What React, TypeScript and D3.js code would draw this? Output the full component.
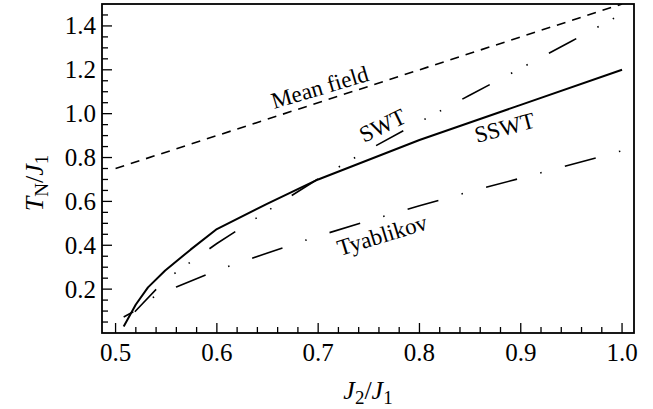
import React from "react";
import * as d3 from "d3";

const W = 653, H = 409;
const X0 = 102, X1 = 634, Y0 = 4, Y1 = 333;

const xTicks = [0.5, 0.6, 0.7, 0.8, 0.9, 1.0];
const yTicks = [0.2, 0.4, 0.6, 0.8, 1.0, 1.2, 1.4];

const mfX = [0.5, 1.0];
const mfY = [0.75, 1.5];

const sswtX = [0.508, 0.52, 0.532, 0.549, 0.574, 0.6, 0.65, 0.7, 0.8, 0.9, 1.0];
const sswtY = [0.03, 0.13, 0.208, 0.285, 0.38, 0.474, 0.59, 0.7, 0.88, 1.04, 1.2];

const swtX = [0.519, 0.54, 0.56, 0.6, 0.65, 0.7, 0.75, 0.8, 0.85, 0.9, 0.95, 1.0];
const swtY = [0.097, 0.199, 0.278, 0.408, 0.557, 0.703, 0.836, 0.962, 1.085, 1.207, 1.33, 1.455];

const tyX = [0.508, 0.518, 0.537, 0.56, 0.6, 0.65, 0.7, 0.75, 0.8, 0.85, 0.9, 0.95, 1.0];
const tyY = [0.073, 0.098, 0.162, 0.21, 0.285, 0.365, 0.442, 0.512, 0.58, 0.645, 0.706, 0.768, 0.831];

const FONT = "'Liberation Serif', 'Times New Roman', serif";

export default function App() {
  const x = d3.scaleLinear().domain([0.4866, 1.0118]).range([X0, X1]);
  const y = d3.scaleLinear().domain([0, 1.5]).range([Y1, Y0]);
  const line = (xs: number[], ys: number[]) =>
    d3.line<number>().x((_, i) => x(xs[i])).y((d) => y(d))(ys) || "";

  const xMinor = d3.range(0, 26).map((i) => 0.5 + i * 0.02).filter((v) => Math.abs((v * 10) - Math.round(v * 10)) > 1e-6);
  const yMinor = d3.range(1, 30).map((i) => i * 0.05).filter((v) => Math.abs(v * 5 - Math.round(v * 5)) > 1e-6);

  return (
    <svg width={W} height={H} style={{ position: "absolute", left: 0, top: 0, background: "#fff" }} fontFamily={FONT}>
      <defs>
        <clipPath id="plot">
          <rect x={X0} y={Y0} width={X1 - X0} height={Y1 - Y0} />
        </clipPath>
      </defs>
      <rect x={0} y={0} width={W} height={H} fill="#fff" />
      <g clipPath="url(#plot)" fill="none" stroke="#000">
        <path d={line(mfX, mfY)} strokeWidth={1.6} strokeDasharray="9 7" />
        <path d={line(swtX, swtY)} strokeWidth={1.6} strokeDasharray="31 24 1.5 16 1.5 24" />
        <path d={line(tyX, tyY)} strokeWidth={1.6} strokeDasharray="32 24 1.5 24" strokeDashoffset={21} />
        <path d={line(sswtX, sswtY)} strokeWidth={2} strokeLinejoin="round" />
      </g>
      {/* ticks */}
      <g stroke="#000" strokeWidth={1.3}>
        {xTicks.map((t) => (
          <line key={"xM" + t} x1={x(t)} x2={x(t)} y1={Y1} y2={Y1 - 10} />
        ))}
        {xMinor.map((t) => (
          <line key={"xm" + t} x1={x(t)} x2={x(t)} y1={Y1} y2={Y1 - 6} />
        ))}
        {yTicks.map((t) => (
          <line key={"yM" + t} x1={X0} x2={X0 + 10} y1={y(t)} y2={y(t)} />
        ))}
        {yMinor.map((t) => (
          <line key={"ym" + t} x1={X0} x2={X0 + 6} y1={y(t)} y2={y(t)} />
        ))}
      </g>
      <rect x={X0} y={Y0} width={X1 - X0} height={Y1 - Y0} fill="none" stroke="#000" strokeWidth={1.8} />
      {/* tick labels */}
      <g fontSize={25} fill="#000">
        {xTicks.map((t) => (
          <text key={"xl" + t} x={x(t)} y={361} textAnchor="middle">{t.toFixed(1)}</text>
        ))}
        {yTicks.map((t) => (
          <text key={"yl" + t} x={96} y={y(t)} dy="0.34em" textAnchor="end">{t.toFixed(1)}</text>
        ))}
      </g>
      {/* axis labels */}
      <text x={(X0 + X1) / 2} y={399} fontSize={26} textAnchor="middle" fill="#000">
        <tspan fontStyle="italic">J</tspan>
        <tspan fontSize={19} dy={5}>2</tspan>
        <tspan dy={-5}>/</tspan>
        <tspan fontStyle="italic">J</tspan>
        <tspan fontSize={19} dy={5}>1</tspan>
      </text>
      <text transform="translate(43,183) rotate(-90)" fontSize={26} textAnchor="middle" fill="#000">
        <tspan fontStyle="italic">T</tspan>
        <tspan fontSize={19} dy={5}>N</tspan>
        <tspan dy={-5}>/</tspan>
        <tspan fontStyle="italic">J</tspan>
        <tspan fontSize={19} dy={5}>1</tspan>
      </text>
      {/* curve labels */}
      <g fontSize={23} fill="#000">
        <text transform="translate(274,109) rotate(-16.5)">Mean field</text>
        <text transform="translate(364,143) rotate(-26)">SWT</text>
        <text transform="translate(477,143) rotate(-15)">SSWT</text>
        <text transform="translate(340,256) rotate(-17)">Tyablikov</text>
      </g>
    </svg>
  );
}
